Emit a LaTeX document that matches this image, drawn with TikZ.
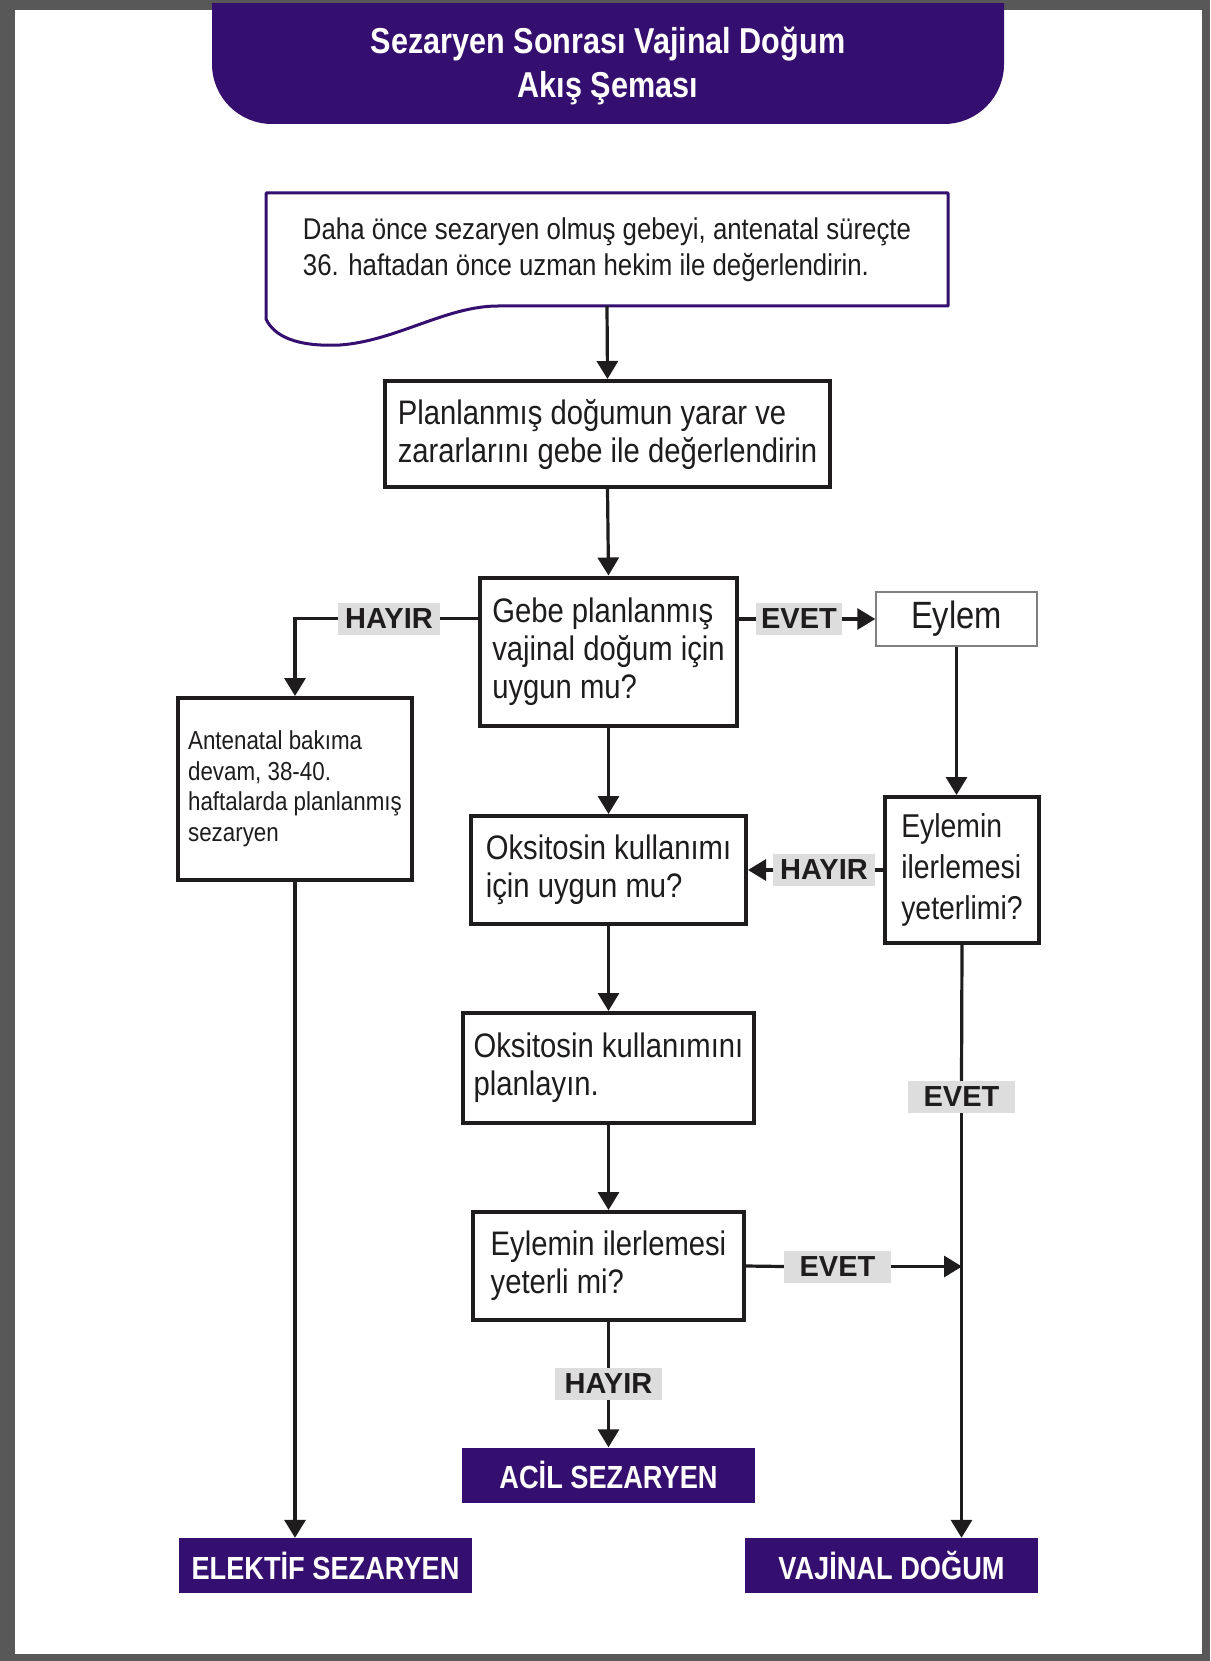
\documentclass[tikz,border=0pt]{standalone}
\usepackage{fontspec}
\setmainfont{Liberation Sans}
\newfontfamily\bodyfont[FakeStretch=0.86]{Liberation Sans}
\newfontfamily\headfont[FakeStretch=0.85]{Liberation Sans}
\usepackage{tikz}
\usetikzlibrary{arrows.meta, calc}

\definecolor{sezpurple}{RGB}{52,15,112}
\definecolor{framegray}{RGB}{88,88,88}
\definecolor{taggray}{RGB}{221,221,221}
\definecolor{inkblack}{RGB}{30,28,28}

\begin{document}
\begin{tikzpicture}[x=1pt, y=-1pt,
    box/.style={draw=inkblack, line width=4pt, fill=white, align=left, text=inkblack,
        font=\bodyfont\fontsize{34}{38}\selectfont},
    endbox/.style={fill=sezpurple, text=white, minimum width=293pt, minimum height=55pt,
        font=\headfont\bfseries\fontsize{32}{36}\selectfont},
    tag/.style={fill=taggray, text=inkblack, inner xsep=7pt, inner ysep=0pt,
        minimum height=32pt, font=\bfseries\fontsize{29}{32}\selectfont},
    conn/.style={inkblack, line width=3.2pt},
    arr/.style={conn, -{Triangle[length=18pt, width=21pt]}}]

    % Frame
    \useasboundingbox (0,0) rectangle (1210,1661);
    \fill[framegray] (0,0) rectangle (1210,1661);
    \fill[white] (15,10) rectangle (1202,1654);

    % Title
    \begin{scope}
        \clip (0,4) rectangle (1210,200);
        \fill[sezpurple, rounded corners=60pt] (212,-80) -- (212,124) -- (1004,124) -- (1004,-80) -- cycle;
    \end{scope}
    \node[font=\headfont\bfseries\fontsize{36}{44}\selectfont, text=white, align=center] (title)
        at (608,66) {Sezaryen Sonrası Vajinal Doğum\\Akış Şeması};

    % Document box
    \node[box, draw=none, fill=none, minimum width=678pt, minimum height=109pt,
        font=\bodyfont\fontsize{30}{36}\selectfont] (doc) at (607,249.5)
        {Daha önce sezaryen olmuş gebeyi, antenatal süreçte\\36. haftadan önce uzman hekim ile değerlendirin.};
    \draw[sezpurple, line width=3pt, line join=round]
        ($(doc.south west)+(0,13)$) -- (doc.north west) -- (doc.north east) -- (doc.south east)
        -- ($(doc.south west)+(232,0)$)
        .. controls ($(doc.south west)+(180,0)$) and ($(doc.south west)+(130,35)$) .. ($(doc.south west)+(74,39)$)
        .. controls ($(doc.south west)+(30,41)$) and ($(doc.south west)+(8,30)$) .. cycle;

    % Steps
    \node[box, minimum width=445pt, minimum height=106pt] (plan) at (607.5,434)
        {Planlanmış doğumun yarar ve\\zararlarını gebe ile değerlendirin};
    \node[box, minimum width=257pt, minimum height=148pt] (gebe) at (608.5,651.5)
        {Gebe planlanmış\\vajinal doğum için\\uygun mu?};
    \node[box, minimum width=234pt, minimum height=182pt,
        font=\bodyfont\fontsize{26}{30.5}\selectfont] (antenatal) at (295,789)
        {Antenatal bakıma\\devam, 38-40.\\haftalarda planlanmış\\sezaryen};
    \node[draw=gray, line width=1.5pt, minimum width=161pt, minimum height=54pt, text=inkblack,
        font=\bodyfont\fontsize{38}{42}\selectfont] (eylem) at (956.5,619) {Eylem};
    \node[box, minimum width=154pt, minimum height=146pt,
        font=\bodyfont\fontsize{33}{41}\selectfont] (yeterli) at (962,870)
        {Eylemin\\ilerlemesi\\yeterlimi?};
    \node[box, minimum width=275pt, minimum height=108pt] (oksi) at (608.5,870)
        {Oksitosin kullanımı\\için uygun mu?};
    \node[box, minimum width=291pt, minimum height=110pt] (planla) at (608.5,1068)
        {Oksitosin kullanımını\\planlayın.};
    \node[box, minimum width=271pt, minimum height=108pt] (ilerleme) at (608.5,1266)
        {Eylemin ilerlemesi\\yeterli mi?};

    % Outcomes
    \node[endbox] (acil) at (608.5,1475) {ACİL SEZARYEN};
    \node[endbox] (elektif) at (325.5,1565.5) {ELEKTİF SEZARYEN};
    \node[endbox] (vajinal) at (891.5,1565.5) {VAJİNAL DOĞUM};

    % Answers
    \node[tag] (hayirsol) at (389,618.5) {HAYIR};
    \node[tag, inner xsep=5pt] (evetsag) at (799,619) {EVET};
    \node[tag] (hayirgeri) at (824,870) {HAYIR};
    \node[tag, minimum width=107pt] (evetdik) at (961.5,1097) {EVET};
    \node[tag, minimum width=107pt] (evetyan) at (837.5,1266.5) {EVET};
    \node[tag, minimum width=107pt] (hayiralt) at (608.5,1384) {HAYIR};

    % Connectors
    \draw[arr] (doc.south) -- (plan.north);
    \draw[arr] (plan.south) -- (gebe.north);
    \draw[conn] (gebe.west |- hayirsol.east) -- (hayirsol.east);
    \draw[arr] (hayirsol.west) -| (antenatal.north);
    \draw[conn] (gebe.east |- evetsag.west) -- (evetsag.west);
    \draw[arr] (evetsag.east) -- (eylem.west);
    \draw[arr] (eylem.south) -- (eylem.south |- yeterli.north);
    \draw[conn] (yeterli.west) -- (hayirgeri.east);
    \draw[arr] (hayirgeri.west) -- (oksi.east);
    \draw[arr] (gebe.south) -- (oksi.north);
    \draw[arr] (oksi.south) -- (planla.north);
    \draw[arr] (planla.south) -- (ilerleme.north);
    \draw[conn] (ilerleme.east) -- (evetyan.west);
    \draw[arr] (evetyan.east) -- (evetyan.east -| yeterli.south);
    \draw[conn] (ilerleme.south) -- (hayiralt.north);
    \draw[arr] (hayiralt.south) -- (acil.north);
    \draw[conn] (yeterli.south) -- (evetdik.north);
    \draw[arr] (evetdik.south) -- (evetdik.south |- vajinal.north);
    \draw[arr] (antenatal.south) -- (antenatal.south |- elektif.north);

\end{tikzpicture}
\end{document}
